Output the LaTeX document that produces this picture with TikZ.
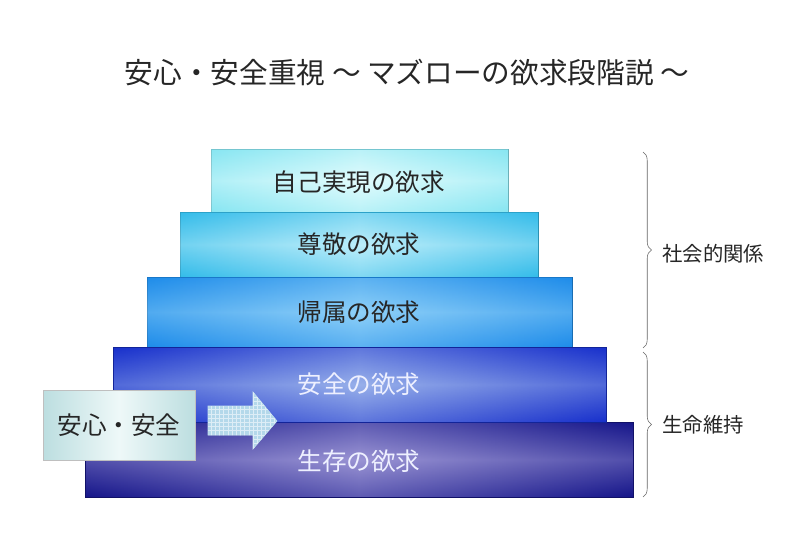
\documentclass[tikz,border=0pt]{standalone}
\usepackage{fontspec}
\setmainfont{Noto Sans CJK JP}
\usepackage{xcolor}
\usetikzlibrary{decorations.pathreplacing, patterns}

\definecolor{selfE}{HTML}{88E6F2}
\definecolor{selfC}{HTML}{E2FCFD}
\definecolor{estE}{HTML}{34BCEA}
\definecolor{estC}{HTML}{BDEEFA}
\definecolor{belE}{HTML}{1E8CEA}
\definecolor{belC}{HTML}{8ED0F8}
\definecolor{safeE}{HTML}{1830CC}
\definecolor{safeC}{HTML}{98B0EA}
\definecolor{lifeE}{HTML}{16168A}
\definecolor{lifeC}{HTML}{9A94D4}
\definecolor{txtdark}{HTML}{262626}
\definecolor{txtlight}{HTML}{EEF0FF}
\definecolor{arrowfill}{HTML}{B4D8EA}
\definecolor{boxedge}{HTML}{BCDEE0}
\definecolor{boxmid}{HTML}{EEF8F8}

\tikzset{
  lvl/.style 2 args={draw=#1!75!black, thin, left color=#1, right color=#1, middle color=#2},
  glow/.style 2 args={top color=#1, bottom color=#1, middle color=#2, opacity=0.45},
  lbl/.style={font=\fontsize{17.5}{18}\selectfont, inner sep=0pt},
  side/.style={font=\fontsize{14.5}{15}\selectfont, inner sep=0pt, anchor=west, text=txtdark},
  curly/.style={draw=gray!80!black, decorate, decoration={brace, amplitude=6pt}}
}

\begin{document}
\begin{tikzpicture}[x=0.025cm, y=-0.025cm]
    \useasboundingbox (0,0) rectangle (800,532);

    % Title
    \node[font=\fontsize{20.4}{21}\selectfont, text=txtdark] (title) at (407,73)
        {安心・安全重視 ～ マズローの欲求段階説 ～};

    % Pyramid levels, top to bottom
    \shade[lvl={selfE}{selfC}] (211,149) rectangle (508,212);
    \shade[glow={selfE}{selfC}] (211,149) rectangle (508,212);
    \shade[lvl={estE}{estC}] (180,212) rectangle (538,277);
    \shade[glow={estE}{estC}] (180,212) rectangle (538,277);
    \shade[lvl={belE}{belC}] (147,277) rectangle (572,347);
    \shade[glow={belE}{belC}] (147,277) rectangle (572,347);
    \shade[lvl={safeE}{safeC}] (113,347) rectangle (606,422);
    \shade[glow={safeE}{safeC}] (113,347) rectangle (606,422);
    \shade[lvl={lifeE}{lifeC}] (85,422) rectangle (633,497);
    \shade[glow={lifeE}{lifeC}] (85,422) rectangle (633,497);
    \draw[lifeE!75!black] (85,422) rectangle (633,497);
    \draw[safeE!75!black] (113,347) rectangle (606,422);

    % Level labels
    \node[lbl, text=txtdark] (self) at (359,182) {自己実現の欲求};
    \node[lbl, text=txtdark] (esteem) at (359,244) {尊敬の欲求};
    \node[lbl, text=txtdark] (belong) at (359,312) {帰属の欲求};
    \node[lbl, text=txtlight] (safety) at (359,384) {安全の欲求};
    \node[lbl, text=txtlight] (life) at (359,461) {生存の欲求};

    % Security box and arrow
    \shade[draw=gray!50, left color=boxedge, right color=boxedge, middle color=boxmid] (43,390) rectangle (195,460);
    \node[lbl, text=txtdark] (anshin) at (119,425) {安心・安全};
    \path[fill=arrowfill, draw=arrowfill!80!white]
        (208,406) -- (253,406) -- (253,392) -- (277,421) -- (253,449) -- (253,435) -- (208,435) -- cycle;
    \path[pattern=grid, pattern color=white!55!arrowfill]
        (208,406) -- (253,406) -- (253,392) -- (277,421) -- (253,449) -- (253,435) -- (208,435) -- cycle;

    % Braces
    \draw[curly] (643,152) -- (643,348);
    \draw[curly] (643,352) -- (643,497);
    \node[side] (social) at (662,254) {社会的関係};
    \node[side] (keep) at (662,425) {生命維持};
\end{tikzpicture}
\end{document}
